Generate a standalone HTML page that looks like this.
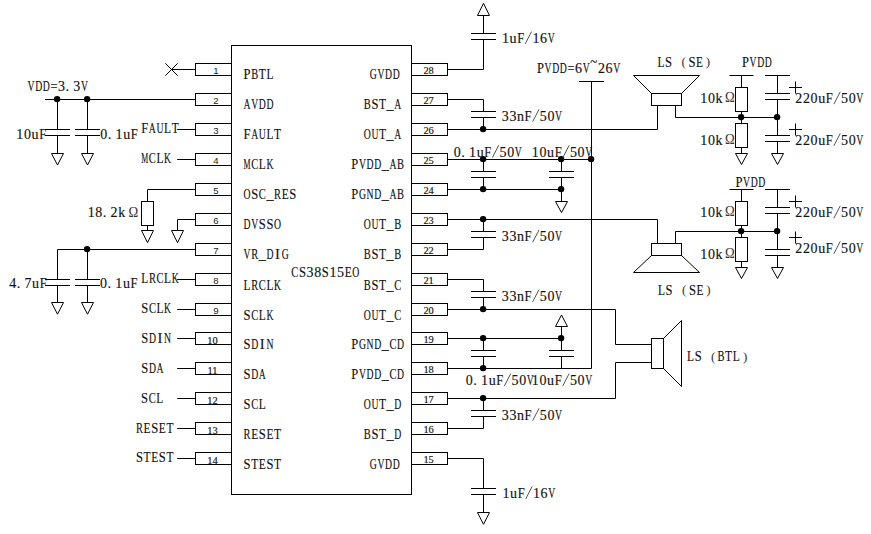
<!DOCTYPE html>
<html><head><meta charset="utf-8"><style>
html,body{margin:0;padding:0;background:#fff;}
svg{display:block;}
path,rect{fill:none;stroke:#000;stroke-width:1;}
circle.d{fill:#000;stroke:none;}
text{font-family:"Liberation Serif",serif;fill:#111;stroke:#111;stroke-width:0.15;}
text.ns{font-family:"Liberation Sans",sans-serif;fill:#222;stroke:none;}
text.nd{fill:#111;stroke:#111;stroke-width:0.15;}
text.o{fill:#333;stroke:none;}
path.sl{stroke:#333;stroke-width:0.85;}
</style></head><body>
<svg width="871" height="534" viewBox="0 0 871 534">
<rect x="231.5" y="45.5" width="180" height="449"/>
<rect x="195.5" y="63.5" width="36" height="12"/>
<text x="216" y="73.8" text-anchor="middle" class="ns" font-size="9.6">1</text>
<text x="247.06" y="78.9" text-anchor="middle" textLength="7" lengthAdjust="spacingAndGlyphs" class="t" font-size="14.6">P</text>
<text x="254.68" y="78.9" text-anchor="middle" textLength="7" lengthAdjust="spacingAndGlyphs" class="t" font-size="14.6">B</text>
<text x="262.30" y="78.9" text-anchor="middle" textLength="7" lengthAdjust="spacingAndGlyphs" class="t" font-size="14.6">T</text>
<text x="269.92" y="78.9" text-anchor="middle" textLength="7" lengthAdjust="spacingAndGlyphs" class="t" font-size="14.6">L</text>
<rect x="195.5" y="93.5" width="36" height="12"/>
<text x="216" y="103.8" text-anchor="middle" class="ns" font-size="9.6">2</text>
<text x="247.06" y="108.995" text-anchor="middle" textLength="7" lengthAdjust="spacingAndGlyphs" class="t" font-size="14.6">A</text>
<text x="254.68" y="108.995" text-anchor="middle" textLength="7" lengthAdjust="spacingAndGlyphs" class="t" font-size="14.6">V</text>
<text x="262.30" y="108.995" text-anchor="middle" textLength="7" lengthAdjust="spacingAndGlyphs" class="t" font-size="14.6">D</text>
<text x="269.92" y="108.995" text-anchor="middle" textLength="7" lengthAdjust="spacingAndGlyphs" class="t" font-size="14.6">D</text>
<rect x="195.5" y="123.5" width="36" height="12"/>
<text x="216" y="133.8" text-anchor="middle" class="ns" font-size="9.6">3</text>
<text x="247.06" y="139.09" text-anchor="middle" textLength="7" lengthAdjust="spacingAndGlyphs" class="t" font-size="14.6">F</text>
<text x="254.68" y="139.09" text-anchor="middle" textLength="7" lengthAdjust="spacingAndGlyphs" class="t" font-size="14.6">A</text>
<text x="262.30" y="139.09" text-anchor="middle" textLength="7" lengthAdjust="spacingAndGlyphs" class="t" font-size="14.6">U</text>
<text x="269.92" y="139.09" text-anchor="middle" textLength="7" lengthAdjust="spacingAndGlyphs" class="t" font-size="14.6">L</text>
<text x="277.54" y="139.09" text-anchor="middle" textLength="7" lengthAdjust="spacingAndGlyphs" class="t" font-size="14.6">T</text>
<rect x="195.5" y="153.5" width="36" height="12"/>
<text x="216" y="163.8" text-anchor="middle" class="ns" font-size="9.6">4</text>
<text x="247.06" y="169.185" text-anchor="middle" textLength="7" lengthAdjust="spacingAndGlyphs" class="t" font-size="14.6">M</text>
<text x="254.68" y="169.185" text-anchor="middle" textLength="7" lengthAdjust="spacingAndGlyphs" class="t" font-size="14.6">C</text>
<text x="262.30" y="169.185" text-anchor="middle" textLength="7" lengthAdjust="spacingAndGlyphs" class="t" font-size="14.6">L</text>
<text x="269.92" y="169.185" text-anchor="middle" textLength="7" lengthAdjust="spacingAndGlyphs" class="t" font-size="14.6">K</text>
<rect x="195.5" y="183.5" width="36" height="12"/>
<text x="216" y="193.8" text-anchor="middle" class="ns" font-size="9.6">5</text>
<text x="247.06" y="199.28" text-anchor="middle" textLength="7" lengthAdjust="spacingAndGlyphs" class="t" font-size="14.6">O</text>
<text x="254.68" y="199.28" text-anchor="middle" textLength="7" lengthAdjust="spacingAndGlyphs" class="t" font-size="14.6">S</text>
<text x="262.30" y="199.28" text-anchor="middle" textLength="7" lengthAdjust="spacingAndGlyphs" class="t" font-size="14.6">C</text>
<text x="269.92" y="199.28" text-anchor="middle" textLength="7" lengthAdjust="spacingAndGlyphs" class="t" font-size="14.6">_</text>
<text x="277.54" y="199.28" text-anchor="middle" textLength="7" lengthAdjust="spacingAndGlyphs" class="t" font-size="14.6">R</text>
<text x="285.16" y="199.28" text-anchor="middle" textLength="7" lengthAdjust="spacingAndGlyphs" class="t" font-size="14.6">E</text>
<text x="292.78" y="199.28" text-anchor="middle" textLength="7" lengthAdjust="spacingAndGlyphs" class="t" font-size="14.6">S</text>
<rect x="195.5" y="213.5" width="36" height="12"/>
<text x="216" y="223.8" text-anchor="middle" class="ns" font-size="9.6">6</text>
<text x="247.06" y="229.375" text-anchor="middle" textLength="7" lengthAdjust="spacingAndGlyphs" class="t" font-size="14.6">D</text>
<text x="254.68" y="229.375" text-anchor="middle" textLength="7" lengthAdjust="spacingAndGlyphs" class="t" font-size="14.6">V</text>
<text x="262.30" y="229.375" text-anchor="middle" textLength="7" lengthAdjust="spacingAndGlyphs" class="t" font-size="14.6">S</text>
<text x="269.92" y="229.375" text-anchor="middle" textLength="7" lengthAdjust="spacingAndGlyphs" class="t" font-size="14.6">S</text>
<text x="277.54" y="229.375" text-anchor="middle" textLength="7" lengthAdjust="spacingAndGlyphs" class="t" font-size="14.6">O</text>
<rect x="195.5" y="243.5" width="36" height="12"/>
<text x="216" y="253.8" text-anchor="middle" class="ns" font-size="9.6">7</text>
<text x="247.06" y="259.47" text-anchor="middle" textLength="7" lengthAdjust="spacingAndGlyphs" class="t" font-size="14.6">V</text>
<text x="254.68" y="259.47" text-anchor="middle" textLength="7" lengthAdjust="spacingAndGlyphs" class="t" font-size="14.6">R</text>
<text x="262.30" y="259.47" text-anchor="middle" textLength="7" lengthAdjust="spacingAndGlyphs" class="t" font-size="14.6">_</text>
<text x="269.92" y="259.47" text-anchor="middle" textLength="7" lengthAdjust="spacingAndGlyphs" class="t" font-size="14.6">D</text>
<text x="277.54" y="259.47" text-anchor="middle" class="t" font-size="14.6">I</text>
<text x="285.16" y="259.47" text-anchor="middle" textLength="7" lengthAdjust="spacingAndGlyphs" class="t" font-size="14.6">G</text>
<rect x="195.5" y="273.5" width="36" height="12"/>
<text x="216" y="283.8" text-anchor="middle" class="ns" font-size="9.6">8</text>
<text x="247.06" y="289.565" text-anchor="middle" textLength="7" lengthAdjust="spacingAndGlyphs" class="t" font-size="14.6">L</text>
<text x="254.68" y="289.565" text-anchor="middle" textLength="7" lengthAdjust="spacingAndGlyphs" class="t" font-size="14.6">R</text>
<text x="262.30" y="289.565" text-anchor="middle" textLength="7" lengthAdjust="spacingAndGlyphs" class="t" font-size="14.6">C</text>
<text x="269.92" y="289.565" text-anchor="middle" textLength="7" lengthAdjust="spacingAndGlyphs" class="t" font-size="14.6">L</text>
<text x="277.54" y="289.565" text-anchor="middle" textLength="7" lengthAdjust="spacingAndGlyphs" class="t" font-size="14.6">K</text>
<rect x="195.5" y="303.5" width="36" height="12"/>
<text x="216" y="313.8" text-anchor="middle" class="ns" font-size="9.6">9</text>
<text x="247.06" y="319.66" text-anchor="middle" textLength="7" lengthAdjust="spacingAndGlyphs" class="t" font-size="14.6">S</text>
<text x="254.68" y="319.66" text-anchor="middle" textLength="7" lengthAdjust="spacingAndGlyphs" class="t" font-size="14.6">C</text>
<text x="262.30" y="319.66" text-anchor="middle" textLength="7" lengthAdjust="spacingAndGlyphs" class="t" font-size="14.6">L</text>
<text x="269.92" y="319.66" text-anchor="middle" textLength="7" lengthAdjust="spacingAndGlyphs" class="t" font-size="14.6">K</text>
<rect x="195.5" y="332.5" width="36" height="12"/>
<text x="212.5" y="344" text-anchor="middle" class="nd" font-size="10.4">10</text>
<text x="247.06" y="348.755" text-anchor="middle" textLength="7" lengthAdjust="spacingAndGlyphs" class="t" font-size="14.6">S</text>
<text x="254.68" y="348.755" text-anchor="middle" textLength="7" lengthAdjust="spacingAndGlyphs" class="t" font-size="14.6">D</text>
<text x="262.30" y="348.755" text-anchor="middle" class="t" font-size="14.6">I</text>
<text x="269.92" y="348.755" text-anchor="middle" textLength="7" lengthAdjust="spacingAndGlyphs" class="t" font-size="14.6">N</text>
<rect x="195.5" y="362.5" width="36" height="12"/>
<text x="212.5" y="374" text-anchor="middle" class="nd" font-size="10.4">11</text>
<text x="247.06" y="378.85" text-anchor="middle" textLength="7" lengthAdjust="spacingAndGlyphs" class="t" font-size="14.6">S</text>
<text x="254.68" y="378.85" text-anchor="middle" textLength="7" lengthAdjust="spacingAndGlyphs" class="t" font-size="14.6">D</text>
<text x="262.30" y="378.85" text-anchor="middle" textLength="7" lengthAdjust="spacingAndGlyphs" class="t" font-size="14.6">A</text>
<rect x="195.5" y="392.5" width="36" height="12"/>
<text x="212.5" y="404" text-anchor="middle" class="nd" font-size="10.4">12</text>
<text x="247.06" y="408.945" text-anchor="middle" textLength="7" lengthAdjust="spacingAndGlyphs" class="t" font-size="14.6">S</text>
<text x="254.68" y="408.945" text-anchor="middle" textLength="7" lengthAdjust="spacingAndGlyphs" class="t" font-size="14.6">C</text>
<text x="262.30" y="408.945" text-anchor="middle" textLength="7" lengthAdjust="spacingAndGlyphs" class="t" font-size="14.6">L</text>
<rect x="195.5" y="422.5" width="36" height="12"/>
<text x="212.5" y="434" text-anchor="middle" class="nd" font-size="10.4">13</text>
<text x="247.06" y="439.04" text-anchor="middle" textLength="7" lengthAdjust="spacingAndGlyphs" class="t" font-size="14.6">R</text>
<text x="254.68" y="439.04" text-anchor="middle" textLength="7" lengthAdjust="spacingAndGlyphs" class="t" font-size="14.6">E</text>
<text x="262.30" y="439.04" text-anchor="middle" textLength="7" lengthAdjust="spacingAndGlyphs" class="t" font-size="14.6">S</text>
<text x="269.92" y="439.04" text-anchor="middle" textLength="7" lengthAdjust="spacingAndGlyphs" class="t" font-size="14.6">E</text>
<text x="277.54" y="439.04" text-anchor="middle" textLength="7" lengthAdjust="spacingAndGlyphs" class="t" font-size="14.6">T</text>
<rect x="195.5" y="452.5" width="36" height="12"/>
<text x="212.5" y="464" text-anchor="middle" class="nd" font-size="10.4">14</text>
<text x="247.06" y="469.135" text-anchor="middle" textLength="7" lengthAdjust="spacingAndGlyphs" class="t" font-size="14.6">S</text>
<text x="254.68" y="469.135" text-anchor="middle" textLength="7" lengthAdjust="spacingAndGlyphs" class="t" font-size="14.6">T</text>
<text x="262.30" y="469.135" text-anchor="middle" textLength="7" lengthAdjust="spacingAndGlyphs" class="t" font-size="14.6">E</text>
<text x="269.92" y="469.135" text-anchor="middle" textLength="7" lengthAdjust="spacingAndGlyphs" class="t" font-size="14.6">S</text>
<text x="277.54" y="469.135" text-anchor="middle" textLength="7" lengthAdjust="spacingAndGlyphs" class="t" font-size="14.6">T</text>
<rect x="411.5" y="63.5" width="36" height="12"/>
<text x="428.6" y="74.4" text-anchor="middle" class="nd" font-size="10.4">28</text>
<text x="373.36" y="78.9" text-anchor="middle" textLength="7" lengthAdjust="spacingAndGlyphs" class="t" font-size="14.6">G</text>
<text x="380.98" y="78.9" text-anchor="middle" textLength="7" lengthAdjust="spacingAndGlyphs" class="t" font-size="14.6">V</text>
<text x="388.60" y="78.9" text-anchor="middle" textLength="7" lengthAdjust="spacingAndGlyphs" class="t" font-size="14.6">D</text>
<text x="396.22" y="78.9" text-anchor="middle" textLength="7" lengthAdjust="spacingAndGlyphs" class="t" font-size="14.6">D</text>
<rect x="411.5" y="93.5" width="36" height="12"/>
<text x="428.6" y="104.4" text-anchor="middle" class="nd" font-size="10.4">27</text>
<text x="367.26" y="108.995" text-anchor="middle" textLength="7" lengthAdjust="spacingAndGlyphs" class="t" font-size="14.6">B</text>
<text x="374.88" y="108.995" text-anchor="middle" textLength="7" lengthAdjust="spacingAndGlyphs" class="t" font-size="14.6">S</text>
<text x="382.50" y="108.995" text-anchor="middle" textLength="7" lengthAdjust="spacingAndGlyphs" class="t" font-size="14.6">T</text>
<text x="390.12" y="108.995" text-anchor="middle" textLength="7" lengthAdjust="spacingAndGlyphs" class="t" font-size="14.6">_</text>
<text x="397.74" y="108.995" text-anchor="middle" textLength="7" lengthAdjust="spacingAndGlyphs" class="t" font-size="14.6">A</text>
<rect x="411.5" y="123.5" width="36" height="12"/>
<text x="428.6" y="134.4" text-anchor="middle" class="nd" font-size="10.4">26</text>
<text x="367.26" y="139.09" text-anchor="middle" textLength="7" lengthAdjust="spacingAndGlyphs" class="t" font-size="14.6">O</text>
<text x="374.88" y="139.09" text-anchor="middle" textLength="7" lengthAdjust="spacingAndGlyphs" class="t" font-size="14.6">U</text>
<text x="382.50" y="139.09" text-anchor="middle" textLength="7" lengthAdjust="spacingAndGlyphs" class="t" font-size="14.6">T</text>
<text x="390.12" y="139.09" text-anchor="middle" textLength="7" lengthAdjust="spacingAndGlyphs" class="t" font-size="14.6">_</text>
<text x="397.74" y="139.09" text-anchor="middle" textLength="7" lengthAdjust="spacingAndGlyphs" class="t" font-size="14.6">A</text>
<rect x="411.5" y="153.5" width="36" height="12"/>
<text x="428.6" y="164.4" text-anchor="middle" class="nd" font-size="10.4">25</text>
<text x="354.86" y="169.185" text-anchor="middle" textLength="7" lengthAdjust="spacingAndGlyphs" class="t" font-size="14.6">P</text>
<text x="362.48" y="169.185" text-anchor="middle" textLength="7" lengthAdjust="spacingAndGlyphs" class="t" font-size="14.6">V</text>
<text x="370.10" y="169.185" text-anchor="middle" textLength="7" lengthAdjust="spacingAndGlyphs" class="t" font-size="14.6">D</text>
<text x="377.72" y="169.185" text-anchor="middle" textLength="7" lengthAdjust="spacingAndGlyphs" class="t" font-size="14.6">D</text>
<text x="385.34" y="169.185" text-anchor="middle" textLength="7" lengthAdjust="spacingAndGlyphs" class="t" font-size="14.6">_</text>
<text x="392.96" y="169.185" text-anchor="middle" textLength="7" lengthAdjust="spacingAndGlyphs" class="t" font-size="14.6">A</text>
<text x="400.58" y="169.185" text-anchor="middle" textLength="7" lengthAdjust="spacingAndGlyphs" class="t" font-size="14.6">B</text>
<rect x="411.5" y="183.5" width="36" height="12"/>
<text x="428.6" y="194.4" text-anchor="middle" class="nd" font-size="10.4">24</text>
<text x="354.86" y="199.28" text-anchor="middle" textLength="7" lengthAdjust="spacingAndGlyphs" class="t" font-size="14.6">P</text>
<text x="362.48" y="199.28" text-anchor="middle" textLength="7" lengthAdjust="spacingAndGlyphs" class="t" font-size="14.6">G</text>
<text x="370.10" y="199.28" text-anchor="middle" textLength="7" lengthAdjust="spacingAndGlyphs" class="t" font-size="14.6">N</text>
<text x="377.72" y="199.28" text-anchor="middle" textLength="7" lengthAdjust="spacingAndGlyphs" class="t" font-size="14.6">D</text>
<text x="385.34" y="199.28" text-anchor="middle" textLength="7" lengthAdjust="spacingAndGlyphs" class="t" font-size="14.6">_</text>
<text x="392.96" y="199.28" text-anchor="middle" textLength="7" lengthAdjust="spacingAndGlyphs" class="t" font-size="14.6">A</text>
<text x="400.58" y="199.28" text-anchor="middle" textLength="7" lengthAdjust="spacingAndGlyphs" class="t" font-size="14.6">B</text>
<rect x="411.5" y="213.5" width="36" height="12"/>
<text x="428.6" y="224.4" text-anchor="middle" class="nd" font-size="10.4">23</text>
<text x="367.26" y="229.375" text-anchor="middle" textLength="7" lengthAdjust="spacingAndGlyphs" class="t" font-size="14.6">O</text>
<text x="374.88" y="229.375" text-anchor="middle" textLength="7" lengthAdjust="spacingAndGlyphs" class="t" font-size="14.6">U</text>
<text x="382.50" y="229.375" text-anchor="middle" textLength="7" lengthAdjust="spacingAndGlyphs" class="t" font-size="14.6">T</text>
<text x="390.12" y="229.375" text-anchor="middle" textLength="7" lengthAdjust="spacingAndGlyphs" class="t" font-size="14.6">_</text>
<text x="397.74" y="229.375" text-anchor="middle" textLength="7" lengthAdjust="spacingAndGlyphs" class="t" font-size="14.6">B</text>
<rect x="411.5" y="243.5" width="36" height="12"/>
<text x="428.6" y="254.4" text-anchor="middle" class="nd" font-size="10.4">22</text>
<text x="367.26" y="259.47" text-anchor="middle" textLength="7" lengthAdjust="spacingAndGlyphs" class="t" font-size="14.6">B</text>
<text x="374.88" y="259.47" text-anchor="middle" textLength="7" lengthAdjust="spacingAndGlyphs" class="t" font-size="14.6">S</text>
<text x="382.50" y="259.47" text-anchor="middle" textLength="7" lengthAdjust="spacingAndGlyphs" class="t" font-size="14.6">T</text>
<text x="390.12" y="259.47" text-anchor="middle" textLength="7" lengthAdjust="spacingAndGlyphs" class="t" font-size="14.6">_</text>
<text x="397.74" y="259.47" text-anchor="middle" textLength="7" lengthAdjust="spacingAndGlyphs" class="t" font-size="14.6">B</text>
<rect x="411.5" y="273.5" width="36" height="12"/>
<text x="428.6" y="284.4" text-anchor="middle" class="nd" font-size="10.4">21</text>
<text x="367.26" y="289.565" text-anchor="middle" textLength="7" lengthAdjust="spacingAndGlyphs" class="t" font-size="14.6">B</text>
<text x="374.88" y="289.565" text-anchor="middle" textLength="7" lengthAdjust="spacingAndGlyphs" class="t" font-size="14.6">S</text>
<text x="382.50" y="289.565" text-anchor="middle" textLength="7" lengthAdjust="spacingAndGlyphs" class="t" font-size="14.6">T</text>
<text x="390.12" y="289.565" text-anchor="middle" textLength="7" lengthAdjust="spacingAndGlyphs" class="t" font-size="14.6">_</text>
<text x="397.74" y="289.565" text-anchor="middle" textLength="7" lengthAdjust="spacingAndGlyphs" class="t" font-size="14.6">C</text>
<rect x="411.5" y="303.5" width="36" height="12"/>
<text x="428.6" y="314.4" text-anchor="middle" class="nd" font-size="10.4">20</text>
<text x="367.26" y="319.66" text-anchor="middle" textLength="7" lengthAdjust="spacingAndGlyphs" class="t" font-size="14.6">O</text>
<text x="374.88" y="319.66" text-anchor="middle" textLength="7" lengthAdjust="spacingAndGlyphs" class="t" font-size="14.6">U</text>
<text x="382.50" y="319.66" text-anchor="middle" textLength="7" lengthAdjust="spacingAndGlyphs" class="t" font-size="14.6">T</text>
<text x="390.12" y="319.66" text-anchor="middle" textLength="7" lengthAdjust="spacingAndGlyphs" class="t" font-size="14.6">_</text>
<text x="397.74" y="319.66" text-anchor="middle" textLength="7" lengthAdjust="spacingAndGlyphs" class="t" font-size="14.6">C</text>
<rect x="411.5" y="332.5" width="36" height="12"/>
<text x="428.6" y="343.4" text-anchor="middle" class="nd" font-size="10.4">19</text>
<text x="354.86" y="348.755" text-anchor="middle" textLength="7" lengthAdjust="spacingAndGlyphs" class="t" font-size="14.6">P</text>
<text x="362.48" y="348.755" text-anchor="middle" textLength="7" lengthAdjust="spacingAndGlyphs" class="t" font-size="14.6">G</text>
<text x="370.10" y="348.755" text-anchor="middle" textLength="7" lengthAdjust="spacingAndGlyphs" class="t" font-size="14.6">N</text>
<text x="377.72" y="348.755" text-anchor="middle" textLength="7" lengthAdjust="spacingAndGlyphs" class="t" font-size="14.6">D</text>
<text x="385.34" y="348.755" text-anchor="middle" textLength="7" lengthAdjust="spacingAndGlyphs" class="t" font-size="14.6">_</text>
<text x="392.96" y="348.755" text-anchor="middle" textLength="7" lengthAdjust="spacingAndGlyphs" class="t" font-size="14.6">C</text>
<text x="400.58" y="348.755" text-anchor="middle" textLength="7" lengthAdjust="spacingAndGlyphs" class="t" font-size="14.6">D</text>
<rect x="411.5" y="362.5" width="36" height="12"/>
<text x="428.6" y="373.4" text-anchor="middle" class="nd" font-size="10.4">18</text>
<text x="354.86" y="378.85" text-anchor="middle" textLength="7" lengthAdjust="spacingAndGlyphs" class="t" font-size="14.6">P</text>
<text x="362.48" y="378.85" text-anchor="middle" textLength="7" lengthAdjust="spacingAndGlyphs" class="t" font-size="14.6">V</text>
<text x="370.10" y="378.85" text-anchor="middle" textLength="7" lengthAdjust="spacingAndGlyphs" class="t" font-size="14.6">D</text>
<text x="377.72" y="378.85" text-anchor="middle" textLength="7" lengthAdjust="spacingAndGlyphs" class="t" font-size="14.6">D</text>
<text x="385.34" y="378.85" text-anchor="middle" textLength="7" lengthAdjust="spacingAndGlyphs" class="t" font-size="14.6">_</text>
<text x="392.96" y="378.85" text-anchor="middle" textLength="7" lengthAdjust="spacingAndGlyphs" class="t" font-size="14.6">C</text>
<text x="400.58" y="378.85" text-anchor="middle" textLength="7" lengthAdjust="spacingAndGlyphs" class="t" font-size="14.6">D</text>
<rect x="411.5" y="392.5" width="36" height="12"/>
<text x="428.6" y="403.4" text-anchor="middle" class="nd" font-size="10.4">17</text>
<text x="367.26" y="408.945" text-anchor="middle" textLength="7" lengthAdjust="spacingAndGlyphs" class="t" font-size="14.6">O</text>
<text x="374.88" y="408.945" text-anchor="middle" textLength="7" lengthAdjust="spacingAndGlyphs" class="t" font-size="14.6">U</text>
<text x="382.50" y="408.945" text-anchor="middle" textLength="7" lengthAdjust="spacingAndGlyphs" class="t" font-size="14.6">T</text>
<text x="390.12" y="408.945" text-anchor="middle" textLength="7" lengthAdjust="spacingAndGlyphs" class="t" font-size="14.6">_</text>
<text x="397.74" y="408.945" text-anchor="middle" textLength="7" lengthAdjust="spacingAndGlyphs" class="t" font-size="14.6">D</text>
<rect x="411.5" y="422.5" width="36" height="12"/>
<text x="428.6" y="433.4" text-anchor="middle" class="nd" font-size="10.4">16</text>
<text x="367.26" y="439.04" text-anchor="middle" textLength="7" lengthAdjust="spacingAndGlyphs" class="t" font-size="14.6">B</text>
<text x="374.88" y="439.04" text-anchor="middle" textLength="7" lengthAdjust="spacingAndGlyphs" class="t" font-size="14.6">S</text>
<text x="382.50" y="439.04" text-anchor="middle" textLength="7" lengthAdjust="spacingAndGlyphs" class="t" font-size="14.6">T</text>
<text x="390.12" y="439.04" text-anchor="middle" textLength="7" lengthAdjust="spacingAndGlyphs" class="t" font-size="14.6">_</text>
<text x="397.74" y="439.04" text-anchor="middle" textLength="7" lengthAdjust="spacingAndGlyphs" class="t" font-size="14.6">D</text>
<rect x="411.5" y="452.5" width="36" height="12"/>
<text x="428.6" y="463.4" text-anchor="middle" class="nd" font-size="10.4">15</text>
<text x="373.36" y="469.135" text-anchor="middle" textLength="7" lengthAdjust="spacingAndGlyphs" class="t" font-size="14.6">G</text>
<text x="380.98" y="469.135" text-anchor="middle" textLength="7" lengthAdjust="spacingAndGlyphs" class="t" font-size="14.6">V</text>
<text x="388.60" y="469.135" text-anchor="middle" textLength="7" lengthAdjust="spacingAndGlyphs" class="t" font-size="14.6">D</text>
<text x="396.22" y="469.135" text-anchor="middle" textLength="7" lengthAdjust="spacingAndGlyphs" class="t" font-size="14.6">D</text>
<text x="294.86" y="277" text-anchor="middle" textLength="7" lengthAdjust="spacingAndGlyphs" class="t" font-size="14.6">C</text>
<text x="302.48" y="277" text-anchor="middle" textLength="7" lengthAdjust="spacingAndGlyphs" class="t" font-size="14.6">S</text>
<text x="310.10" y="277" text-anchor="middle" textLength="7" lengthAdjust="spacingAndGlyphs" class="t" font-size="14.6">3</text>
<text x="317.72" y="277" text-anchor="middle" textLength="7" lengthAdjust="spacingAndGlyphs" class="t" font-size="14.6">8</text>
<text x="325.34" y="277" text-anchor="middle" textLength="7" lengthAdjust="spacingAndGlyphs" class="t" font-size="14.6">S</text>
<text x="332.96" y="277" text-anchor="middle" textLength="7" lengthAdjust="spacingAndGlyphs" class="t" font-size="14.6">1</text>
<text x="340.58" y="277" text-anchor="middle" textLength="7" lengthAdjust="spacingAndGlyphs" class="t" font-size="14.6">5</text>
<text x="348.20" y="277" text-anchor="middle" textLength="7" lengthAdjust="spacingAndGlyphs" class="t" font-size="14.6">E</text>
<text x="355.82" y="277" text-anchor="middle" textLength="7" lengthAdjust="spacingAndGlyphs" class="t" font-size="14.6">O</text>
<path d="M165.3 63.3 L177.7 75.7"/>
<path d="M165.3 75.7 L177.7 63.3"/>
<path d="M171.5 69.5 L195.5 69.5"/>
<path d="M45 99.5 L195.5 99.5"/>
<circle cx="57.1" cy="99.1" r="3.2" class="d"/>
<circle cx="87.1" cy="99.1" r="3.2" class="d"/>
<path d="M57.5 99.5 L57.5 129.5"/>
<path d="M57.5 135.5 L57.5 153.5"/>
<path d="M45 129.5 L70 129.5"/>
<path d="M45 135.5 L70 135.5"/>
<path d="M51.5 153.5 L63.5 153.5 L57.5 165 Z"/>
<path d="M87.5 99.5 L87.5 129.5"/>
<path d="M87.5 135.5 L87.5 153.5"/>
<path d="M75 129.5 L100 129.5"/>
<path d="M75 135.5 L100 135.5"/>
<path d="M81.5 153.5 L93.5 153.5 L87.5 165 Z"/>
<text x="31.06" y="91" text-anchor="middle" textLength="7" lengthAdjust="spacingAndGlyphs" class="t" font-size="14.6">V</text>
<text x="38.68" y="91" text-anchor="middle" textLength="7" lengthAdjust="spacingAndGlyphs" class="t" font-size="14.6">D</text>
<text x="46.30" y="91" text-anchor="middle" textLength="7" lengthAdjust="spacingAndGlyphs" class="t" font-size="14.6">D</text>
<text x="53.92" y="91" text-anchor="middle" textLength="7" lengthAdjust="spacingAndGlyphs" class="t" font-size="14.6">=</text>
<text x="61.54" y="91" text-anchor="middle" textLength="7" lengthAdjust="spacingAndGlyphs" class="t" font-size="14.6">3</text>
<text x="67.36" y="91" text-anchor="middle" class="t" font-size="14.6">.</text>
<text x="76.78" y="91" text-anchor="middle" textLength="7" lengthAdjust="spacingAndGlyphs" class="t" font-size="14.6">3</text>
<text x="84.40" y="91" text-anchor="middle" textLength="7" lengthAdjust="spacingAndGlyphs" class="t" font-size="14.6">V</text>
<text x="19.86" y="139" text-anchor="middle" textLength="7" lengthAdjust="spacingAndGlyphs" class="t" font-size="14.6">1</text>
<text x="27.48" y="139" text-anchor="middle" textLength="7" lengthAdjust="spacingAndGlyphs" class="t" font-size="14.6">0</text>
<text x="35.10" y="139" text-anchor="middle" textLength="7" lengthAdjust="spacingAndGlyphs" class="t" font-size="14.6">u</text>
<text x="42.72" y="139" text-anchor="middle" textLength="7" lengthAdjust="spacingAndGlyphs" class="t" font-size="14.6">F</text>
<text x="103.86" y="139.2" text-anchor="middle" textLength="7" lengthAdjust="spacingAndGlyphs" class="t" font-size="14.6">0</text>
<text x="109.68" y="139.2" text-anchor="middle" class="t" font-size="14.6">.</text>
<text x="119.10" y="139.2" text-anchor="middle" textLength="7" lengthAdjust="spacingAndGlyphs" class="t" font-size="14.6">1</text>
<text x="126.72" y="139.2" text-anchor="middle" textLength="7" lengthAdjust="spacingAndGlyphs" class="t" font-size="14.6">u</text>
<text x="134.34" y="139.2" text-anchor="middle" textLength="7" lengthAdjust="spacingAndGlyphs" class="t" font-size="14.6">F</text>
<path d="M177.2 129.5 L195.5 129.5"/>
<path d="M177.2 159.5 L195.5 159.5"/>
<path d="M177.2 279.5 L195.5 279.5"/>
<path d="M177.2 309.5 L195.5 309.5"/>
<path d="M177.2 338.5 L195.5 338.5"/>
<path d="M177.2 368.5 L195.5 368.5"/>
<path d="M177.2 398.5 L195.5 398.5"/>
<path d="M177.2 428.5 L195.5 428.5"/>
<path d="M177.2 458.5 L195.5 458.5"/>
<text x="144.66" y="132.7" text-anchor="middle" textLength="7" lengthAdjust="spacingAndGlyphs" class="t" font-size="14.6">F</text>
<text x="152.28" y="132.7" text-anchor="middle" textLength="7" lengthAdjust="spacingAndGlyphs" class="t" font-size="14.6">A</text>
<text x="159.90" y="132.7" text-anchor="middle" textLength="7" lengthAdjust="spacingAndGlyphs" class="t" font-size="14.6">U</text>
<text x="167.52" y="132.7" text-anchor="middle" textLength="7" lengthAdjust="spacingAndGlyphs" class="t" font-size="14.6">L</text>
<text x="175.14" y="132.7" text-anchor="middle" textLength="7" lengthAdjust="spacingAndGlyphs" class="t" font-size="14.6">T</text>
<text x="144.66" y="162.6" text-anchor="middle" textLength="7" lengthAdjust="spacingAndGlyphs" class="t" font-size="14.6">M</text>
<text x="152.28" y="162.6" text-anchor="middle" textLength="7" lengthAdjust="spacingAndGlyphs" class="t" font-size="14.6">C</text>
<text x="159.90" y="162.6" text-anchor="middle" textLength="7" lengthAdjust="spacingAndGlyphs" class="t" font-size="14.6">L</text>
<text x="167.52" y="162.6" text-anchor="middle" textLength="7" lengthAdjust="spacingAndGlyphs" class="t" font-size="14.6">K</text>
<text x="144.76" y="282.8" text-anchor="middle" textLength="7" lengthAdjust="spacingAndGlyphs" class="t" font-size="14.6">L</text>
<text x="152.38" y="282.8" text-anchor="middle" textLength="7" lengthAdjust="spacingAndGlyphs" class="t" font-size="14.6">R</text>
<text x="160.00" y="282.8" text-anchor="middle" textLength="7" lengthAdjust="spacingAndGlyphs" class="t" font-size="14.6">C</text>
<text x="167.62" y="282.8" text-anchor="middle" textLength="7" lengthAdjust="spacingAndGlyphs" class="t" font-size="14.6">L</text>
<text x="175.24" y="282.8" text-anchor="middle" textLength="7" lengthAdjust="spacingAndGlyphs" class="t" font-size="14.6">K</text>
<text x="144.76" y="312.6" text-anchor="middle" textLength="7" lengthAdjust="spacingAndGlyphs" class="t" font-size="14.6">S</text>
<text x="152.38" y="312.6" text-anchor="middle" textLength="7" lengthAdjust="spacingAndGlyphs" class="t" font-size="14.6">C</text>
<text x="160.00" y="312.6" text-anchor="middle" textLength="7" lengthAdjust="spacingAndGlyphs" class="t" font-size="14.6">L</text>
<text x="167.62" y="312.6" text-anchor="middle" textLength="7" lengthAdjust="spacingAndGlyphs" class="t" font-size="14.6">K</text>
<text x="144.76" y="342.8" text-anchor="middle" textLength="7" lengthAdjust="spacingAndGlyphs" class="t" font-size="14.6">S</text>
<text x="152.38" y="342.8" text-anchor="middle" textLength="7" lengthAdjust="spacingAndGlyphs" class="t" font-size="14.6">D</text>
<text x="160.00" y="342.8" text-anchor="middle" class="t" font-size="14.6">I</text>
<text x="167.62" y="342.8" text-anchor="middle" textLength="7" lengthAdjust="spacingAndGlyphs" class="t" font-size="14.6">N</text>
<text x="144.76" y="372.7" text-anchor="middle" textLength="7" lengthAdjust="spacingAndGlyphs" class="t" font-size="14.6">S</text>
<text x="152.38" y="372.7" text-anchor="middle" textLength="7" lengthAdjust="spacingAndGlyphs" class="t" font-size="14.6">D</text>
<text x="160.00" y="372.7" text-anchor="middle" textLength="7" lengthAdjust="spacingAndGlyphs" class="t" font-size="14.6">A</text>
<text x="144.56" y="402.6" text-anchor="middle" textLength="7" lengthAdjust="spacingAndGlyphs" class="t" font-size="14.6">S</text>
<text x="152.18" y="402.6" text-anchor="middle" textLength="7" lengthAdjust="spacingAndGlyphs" class="t" font-size="14.6">C</text>
<text x="159.80" y="402.6" text-anchor="middle" textLength="7" lengthAdjust="spacingAndGlyphs" class="t" font-size="14.6">L</text>
<text x="139.46" y="433.1" text-anchor="middle" textLength="7" lengthAdjust="spacingAndGlyphs" class="t" font-size="14.6">R</text>
<text x="147.08" y="433.1" text-anchor="middle" textLength="7" lengthAdjust="spacingAndGlyphs" class="t" font-size="14.6">E</text>
<text x="154.70" y="433.1" text-anchor="middle" textLength="7" lengthAdjust="spacingAndGlyphs" class="t" font-size="14.6">S</text>
<text x="162.32" y="433.1" text-anchor="middle" textLength="7" lengthAdjust="spacingAndGlyphs" class="t" font-size="14.6">E</text>
<text x="169.94" y="433.1" text-anchor="middle" textLength="7" lengthAdjust="spacingAndGlyphs" class="t" font-size="14.6">T</text>
<text x="139.46" y="462.1" text-anchor="middle" textLength="7" lengthAdjust="spacingAndGlyphs" class="t" font-size="14.6">S</text>
<text x="147.08" y="462.1" text-anchor="middle" textLength="7" lengthAdjust="spacingAndGlyphs" class="t" font-size="14.6">T</text>
<text x="154.70" y="462.1" text-anchor="middle" textLength="7" lengthAdjust="spacingAndGlyphs" class="t" font-size="14.6">E</text>
<text x="162.32" y="462.1" text-anchor="middle" textLength="7" lengthAdjust="spacingAndGlyphs" class="t" font-size="14.6">S</text>
<text x="169.94" y="462.1" text-anchor="middle" textLength="7" lengthAdjust="spacingAndGlyphs" class="t" font-size="14.6">T</text>
<path d="M195.5 189.5 L147.5 189.5 L147.5 201.5"/>
<rect x="141.5" y="201.5" width="12" height="24"/>
<path d="M147.5 225.5 L147.5 230.5"/>
<path d="M141.5 230.5 L153.5 230.5 L147.5 242.7 Z"/>
<text x="91.16" y="217" text-anchor="middle" textLength="7" lengthAdjust="spacingAndGlyphs" class="t" font-size="14.6">1</text>
<text x="98.78" y="217" text-anchor="middle" textLength="7" lengthAdjust="spacingAndGlyphs" class="t" font-size="14.6">8</text>
<text x="104.60" y="217" text-anchor="middle" class="t" font-size="14.6">.</text>
<text x="114.02" y="217" text-anchor="middle" textLength="7" lengthAdjust="spacingAndGlyphs" class="t" font-size="14.6">2</text>
<text x="121.64" y="217" text-anchor="middle" textLength="7" lengthAdjust="spacingAndGlyphs" class="t" font-size="14.6">k</text>
<text x="128.6" y="216.5" textLength="9.7" lengthAdjust="spacingAndGlyphs" class="o" font-size="14.6">&#937;</text>
<path d="M195.5 219.5 L177.5 219.5 L177.5 230.5"/>
<path d="M171.5 230.5 L183.5 230.5 L177.5 242.7 Z"/>
<path d="M195.5 249.5 L57.5 249.5 L57.5 279.5"/>
<circle cx="87.1" cy="249.1" r="3.2" class="d"/>
<path d="M87.5 249.5 L87.5 279.5"/>
<path d="M45 279.5 L70 279.5"/>
<path d="M45 285.5 L70 285.5"/>
<path d="M57.5 285.5 L57.5 302.5"/>
<path d="M51.5 302.5 L63.5 302.5 L57.5 314.2 Z"/>
<path d="M75 279.5 L100 279.5"/>
<path d="M75 285.5 L100 285.5"/>
<path d="M87.5 285.5 L87.5 302.5"/>
<path d="M81.5 302.5 L93.5 302.5 L87.5 314.2 Z"/>
<text x="12.66" y="288" text-anchor="middle" textLength="7" lengthAdjust="spacingAndGlyphs" class="t" font-size="14.6">4</text>
<text x="18.48" y="288" text-anchor="middle" class="t" font-size="14.6">.</text>
<text x="27.90" y="288" text-anchor="middle" textLength="7" lengthAdjust="spacingAndGlyphs" class="t" font-size="14.6">7</text>
<text x="35.52" y="288" text-anchor="middle" textLength="7" lengthAdjust="spacingAndGlyphs" class="t" font-size="14.6">u</text>
<text x="43.14" y="288" text-anchor="middle" textLength="7" lengthAdjust="spacingAndGlyphs" class="t" font-size="14.6">F</text>
<text x="103.56" y="288" text-anchor="middle" textLength="7" lengthAdjust="spacingAndGlyphs" class="t" font-size="14.6">0</text>
<text x="109.38" y="288" text-anchor="middle" class="t" font-size="14.6">.</text>
<text x="118.80" y="288" text-anchor="middle" textLength="7" lengthAdjust="spacingAndGlyphs" class="t" font-size="14.6">1</text>
<text x="126.42" y="288" text-anchor="middle" textLength="7" lengthAdjust="spacingAndGlyphs" class="t" font-size="14.6">u</text>
<text x="134.04" y="288" text-anchor="middle" textLength="7" lengthAdjust="spacingAndGlyphs" class="t" font-size="14.6">F</text>
<path d="M447.5 69.5 L483.5 69.5 L483.5 39.5"/>
<path d="M471 33.5 L496 33.5"/>
<path d="M471 39.5 L496 39.5"/>
<path d="M483.5 33.5 L483.5 15.5"/>
<path d="M477.5 15.5 L489.5 15.5 L483.5 3.3 Z"/>
<text x="505.46" y="42.9" text-anchor="middle" textLength="7" lengthAdjust="spacingAndGlyphs" class="t" font-size="14.6">1</text>
<text x="513.08" y="42.9" text-anchor="middle" textLength="7" lengthAdjust="spacingAndGlyphs" class="t" font-size="14.6">u</text>
<text x="520.70" y="42.9" text-anchor="middle" textLength="7" lengthAdjust="spacingAndGlyphs" class="t" font-size="14.6">F</text>
<path class="sl" d="M525.22 43.9 L531.62 31.5"/>
<text x="535.94" y="42.9" text-anchor="middle" textLength="7" lengthAdjust="spacingAndGlyphs" class="t" font-size="14.6">1</text>
<text x="543.56" y="42.9" text-anchor="middle" textLength="7" lengthAdjust="spacingAndGlyphs" class="t" font-size="14.6">6</text>
<text x="551.18" y="42.9" text-anchor="middle" textLength="7" lengthAdjust="spacingAndGlyphs" class="t" font-size="14.6">V</text>
<path d="M447.5 99.5 L483.5 99.5 L483.5 111.5"/>
<path d="M471 111.5 L496 111.5"/>
<path d="M471 117.5 L496 117.5"/>
<path d="M483.5 117.5 L483.5 129.5"/>
<circle cx="483.1" cy="129.1" r="3.2" class="d"/>
<path d="M447.5 129.5 L657.5 129.5 L657.5 105.5"/>
<text x="505.26" y="120.7" text-anchor="middle" textLength="7" lengthAdjust="spacingAndGlyphs" class="t" font-size="14.6">3</text>
<text x="512.88" y="120.7" text-anchor="middle" textLength="7" lengthAdjust="spacingAndGlyphs" class="t" font-size="14.6">3</text>
<text x="520.50" y="120.7" text-anchor="middle" textLength="7" lengthAdjust="spacingAndGlyphs" class="t" font-size="14.6">n</text>
<text x="528.12" y="120.7" text-anchor="middle" textLength="7" lengthAdjust="spacingAndGlyphs" class="t" font-size="14.6">F</text>
<path class="sl" d="M532.64 121.7 L539.04 109.3"/>
<text x="543.36" y="120.7" text-anchor="middle" textLength="7" lengthAdjust="spacingAndGlyphs" class="t" font-size="14.6">5</text>
<text x="550.98" y="120.7" text-anchor="middle" textLength="7" lengthAdjust="spacingAndGlyphs" class="t" font-size="14.6">0</text>
<text x="558.60" y="120.7" text-anchor="middle" textLength="7" lengthAdjust="spacingAndGlyphs" class="t" font-size="14.6">V</text>
<path d="M447.5 159.5 L591.5 159.5"/>
<circle cx="483.1" cy="159.1" r="3.2" class="d"/>
<circle cx="561.1" cy="159.1" r="3.2" class="d"/>
<circle cx="591.1" cy="159.1" r="3.2" class="d"/>
<path d="M483.5 159.5 L483.5 171.5"/>
<path d="M471 171.5 L496 171.5"/>
<path d="M471 177.5 L496 177.5"/>
<path d="M483.5 177.5 L483.5 189.5"/>
<circle cx="483.1" cy="189.1" r="3.2" class="d"/>
<path d="M561.5 159.5 L561.5 171.5"/>
<path d="M549 171.5 L574 171.5"/>
<path d="M549 177.5 L574 177.5"/>
<path d="M561.5 177.5 L561.5 201.5"/>
<circle cx="561.1" cy="189.1" r="3.2" class="d"/>
<path d="M555.5 201.5 L567.5 201.5 L561.5 212.6 Z"/>
<path d="M447.5 189.5 L561.5 189.5"/>
<text x="457.36" y="156.6" text-anchor="middle" textLength="7" lengthAdjust="spacingAndGlyphs" class="t" font-size="14.6">0</text>
<text x="463.18" y="156.6" text-anchor="middle" class="t" font-size="14.6">.</text>
<text x="472.60" y="156.6" text-anchor="middle" textLength="7" lengthAdjust="spacingAndGlyphs" class="t" font-size="14.6">1</text>
<text x="480.22" y="156.6" text-anchor="middle" textLength="7" lengthAdjust="spacingAndGlyphs" class="t" font-size="14.6">u</text>
<text x="487.84" y="156.6" text-anchor="middle" textLength="7" lengthAdjust="spacingAndGlyphs" class="t" font-size="14.6">F</text>
<path class="sl" d="M492.36 157.6 L498.76 145.2"/>
<text x="503.08" y="156.6" text-anchor="middle" textLength="7" lengthAdjust="spacingAndGlyphs" class="t" font-size="14.6">5</text>
<text x="510.70" y="156.6" text-anchor="middle" textLength="7" lengthAdjust="spacingAndGlyphs" class="t" font-size="14.6">0</text>
<text x="518.32" y="156.6" text-anchor="middle" textLength="7" lengthAdjust="spacingAndGlyphs" class="t" font-size="14.6">V</text>
<text x="535.36" y="156.8" text-anchor="middle" textLength="7" lengthAdjust="spacingAndGlyphs" class="t" font-size="14.6">1</text>
<text x="542.98" y="156.8" text-anchor="middle" textLength="7" lengthAdjust="spacingAndGlyphs" class="t" font-size="14.6">0</text>
<text x="550.60" y="156.8" text-anchor="middle" textLength="7" lengthAdjust="spacingAndGlyphs" class="t" font-size="14.6">u</text>
<text x="558.22" y="156.8" text-anchor="middle" textLength="7" lengthAdjust="spacingAndGlyphs" class="t" font-size="14.6">F</text>
<path class="sl" d="M562.74 157.8 L569.14 145.4"/>
<text x="573.46" y="156.8" text-anchor="middle" textLength="7" lengthAdjust="spacingAndGlyphs" class="t" font-size="14.6">5</text>
<text x="581.08" y="156.8" text-anchor="middle" textLength="7" lengthAdjust="spacingAndGlyphs" class="t" font-size="14.6">0</text>
<text x="588.70" y="156.8" text-anchor="middle" textLength="7" lengthAdjust="spacingAndGlyphs" class="t" font-size="14.6">V</text>
<path d="M579 81.5 L604 81.5"/>
<path d="M591.5 81.5 L591.5 368.5 L447.5 368.5"/>
<text x="540.46" y="72.8" text-anchor="middle" textLength="7" lengthAdjust="spacingAndGlyphs" class="t" font-size="14.6">P</text>
<text x="548.08" y="72.8" text-anchor="middle" textLength="7" lengthAdjust="spacingAndGlyphs" class="t" font-size="14.6">V</text>
<text x="555.70" y="72.8" text-anchor="middle" textLength="7" lengthAdjust="spacingAndGlyphs" class="t" font-size="14.6">D</text>
<text x="563.32" y="72.8" text-anchor="middle" textLength="7" lengthAdjust="spacingAndGlyphs" class="t" font-size="14.6">D</text>
<text x="570.94" y="72.8" text-anchor="middle" textLength="7" lengthAdjust="spacingAndGlyphs" class="t" font-size="14.6">=</text>
<text x="578.56" y="72.8" text-anchor="middle" textLength="7" lengthAdjust="spacingAndGlyphs" class="t" font-size="14.6">6</text>
<text x="586.18" y="72.8" text-anchor="middle" textLength="7" lengthAdjust="spacingAndGlyphs" class="t" font-size="14.6">V</text>
<text x="593.80" y="67.3" text-anchor="middle" textLength="7" lengthAdjust="spacingAndGlyphs" class="t" font-size="14.6">~</text>
<text x="601.42" y="72.8" text-anchor="middle" textLength="7" lengthAdjust="spacingAndGlyphs" class="t" font-size="14.6">2</text>
<text x="609.04" y="72.8" text-anchor="middle" textLength="7" lengthAdjust="spacingAndGlyphs" class="t" font-size="14.6">6</text>
<text x="616.66" y="72.8" text-anchor="middle" textLength="7" lengthAdjust="spacingAndGlyphs" class="t" font-size="14.6">V</text>
<path d="M447.5 219.5 L657.5 219.5 L657.5 243.5"/>
<circle cx="483.1" cy="219.1" r="3.2" class="d"/>
<path d="M483.5 219.5 L483.5 231.5"/>
<path d="M471 231.5 L496 231.5"/>
<path d="M471 237.5 L496 237.5"/>
<path d="M483.5 237.5 L483.5 249.5 L447.5 249.5"/>
<text x="505.26" y="241.3" text-anchor="middle" textLength="7" lengthAdjust="spacingAndGlyphs" class="t" font-size="14.6">3</text>
<text x="512.88" y="241.3" text-anchor="middle" textLength="7" lengthAdjust="spacingAndGlyphs" class="t" font-size="14.6">3</text>
<text x="520.50" y="241.3" text-anchor="middle" textLength="7" lengthAdjust="spacingAndGlyphs" class="t" font-size="14.6">n</text>
<text x="528.12" y="241.3" text-anchor="middle" textLength="7" lengthAdjust="spacingAndGlyphs" class="t" font-size="14.6">F</text>
<path class="sl" d="M532.64 242.3 L539.04 229.9"/>
<text x="543.36" y="241.3" text-anchor="middle" textLength="7" lengthAdjust="spacingAndGlyphs" class="t" font-size="14.6">5</text>
<text x="550.98" y="241.3" text-anchor="middle" textLength="7" lengthAdjust="spacingAndGlyphs" class="t" font-size="14.6">0</text>
<text x="558.60" y="241.3" text-anchor="middle" textLength="7" lengthAdjust="spacingAndGlyphs" class="t" font-size="14.6">V</text>
<path d="M447.5 279.5 L483.5 279.5 L483.5 291.5"/>
<path d="M471 291.5 L496 291.5"/>
<path d="M471 297.5 L496 297.5"/>
<path d="M483.5 297.5 L483.5 309.5"/>
<circle cx="483.1" cy="309.1" r="3.2" class="d"/>
<path d="M447.5 309.5 L615.5 309.5 L615.5 344.5 L651.5 344.5"/>
<text x="505.26" y="300.9" text-anchor="middle" textLength="7" lengthAdjust="spacingAndGlyphs" class="t" font-size="14.6">3</text>
<text x="512.88" y="300.9" text-anchor="middle" textLength="7" lengthAdjust="spacingAndGlyphs" class="t" font-size="14.6">3</text>
<text x="520.50" y="300.9" text-anchor="middle" textLength="7" lengthAdjust="spacingAndGlyphs" class="t" font-size="14.6">n</text>
<text x="528.12" y="300.9" text-anchor="middle" textLength="7" lengthAdjust="spacingAndGlyphs" class="t" font-size="14.6">F</text>
<path class="sl" d="M532.64 301.9 L539.04 289.5"/>
<text x="543.36" y="300.9" text-anchor="middle" textLength="7" lengthAdjust="spacingAndGlyphs" class="t" font-size="14.6">5</text>
<text x="550.98" y="300.9" text-anchor="middle" textLength="7" lengthAdjust="spacingAndGlyphs" class="t" font-size="14.6">0</text>
<text x="558.60" y="300.9" text-anchor="middle" textLength="7" lengthAdjust="spacingAndGlyphs" class="t" font-size="14.6">V</text>
<path d="M447.5 338.5 L561.5 338.5"/>
<circle cx="483.1" cy="338.1" r="3.2" class="d"/>
<circle cx="561.1" cy="338.1" r="3.2" class="d"/>
<circle cx="483.1" cy="368.1" r="3.2" class="d"/>
<path d="M483.5 338.5 L483.5 350.5"/>
<path d="M471 350.5 L496 350.5"/>
<path d="M471 356.5 L496 356.5"/>
<path d="M483.5 356.5 L483.5 368.5"/>
<path d="M561.5 338.5 L561.5 350.5"/>
<path d="M549 350.5 L574 350.5"/>
<path d="M549 356.5 L574 356.5"/>
<path d="M561.5 356.5 L561.5 368.5"/>
<path d="M561.5 338.5 L561.5 326.5"/>
<path d="M555.5 326.5 L567.5 326.5 L561.5 315 Z"/>
<text x="469.36" y="385" text-anchor="middle" textLength="7" lengthAdjust="spacingAndGlyphs" class="t" font-size="14.6">0</text>
<text x="475.18" y="385" text-anchor="middle" class="t" font-size="14.6">.</text>
<text x="484.60" y="385" text-anchor="middle" textLength="7" lengthAdjust="spacingAndGlyphs" class="t" font-size="14.6">1</text>
<text x="492.22" y="385" text-anchor="middle" textLength="7" lengthAdjust="spacingAndGlyphs" class="t" font-size="14.6">u</text>
<text x="499.84" y="385" text-anchor="middle" textLength="7" lengthAdjust="spacingAndGlyphs" class="t" font-size="14.6">F</text>
<path class="sl" d="M504.36 386 L510.76 373.6"/>
<text x="515.08" y="385" text-anchor="middle" textLength="7" lengthAdjust="spacingAndGlyphs" class="t" font-size="14.6">5</text>
<text x="522.70" y="385" text-anchor="middle" textLength="7" lengthAdjust="spacingAndGlyphs" class="t" font-size="14.6">0</text>
<text x="530.32" y="385" text-anchor="middle" textLength="7" lengthAdjust="spacingAndGlyphs" class="t" font-size="14.6">V</text>
<text x="535.36" y="385" text-anchor="middle" textLength="7" lengthAdjust="spacingAndGlyphs" class="t" font-size="14.6">1</text>
<text x="542.98" y="385" text-anchor="middle" textLength="7" lengthAdjust="spacingAndGlyphs" class="t" font-size="14.6">0</text>
<text x="550.60" y="385" text-anchor="middle" textLength="7" lengthAdjust="spacingAndGlyphs" class="t" font-size="14.6">u</text>
<text x="558.22" y="385" text-anchor="middle" textLength="7" lengthAdjust="spacingAndGlyphs" class="t" font-size="14.6">F</text>
<path class="sl" d="M562.74 386 L569.14 373.6"/>
<text x="573.46" y="385" text-anchor="middle" textLength="7" lengthAdjust="spacingAndGlyphs" class="t" font-size="14.6">5</text>
<text x="581.08" y="385" text-anchor="middle" textLength="7" lengthAdjust="spacingAndGlyphs" class="t" font-size="14.6">0</text>
<text x="588.70" y="385" text-anchor="middle" textLength="7" lengthAdjust="spacingAndGlyphs" class="t" font-size="14.6">V</text>
<path d="M447.5 398.5 L615.5 398.5 L615.5 362.5 L651.5 362.5"/>
<circle cx="483.1" cy="398.1" r="3.2" class="d"/>
<path d="M483.5 398.5 L483.5 410.5"/>
<path d="M471 410.5 L496 410.5"/>
<path d="M471 416.5 L496 416.5"/>
<path d="M483.5 416.5 L483.5 428.5 L447.5 428.5"/>
<text x="505.26" y="419.7" text-anchor="middle" textLength="7" lengthAdjust="spacingAndGlyphs" class="t" font-size="14.6">3</text>
<text x="512.88" y="419.7" text-anchor="middle" textLength="7" lengthAdjust="spacingAndGlyphs" class="t" font-size="14.6">3</text>
<text x="520.50" y="419.7" text-anchor="middle" textLength="7" lengthAdjust="spacingAndGlyphs" class="t" font-size="14.6">n</text>
<text x="528.12" y="419.7" text-anchor="middle" textLength="7" lengthAdjust="spacingAndGlyphs" class="t" font-size="14.6">F</text>
<path class="sl" d="M532.64 420.7 L539.04 408.3"/>
<text x="543.36" y="419.7" text-anchor="middle" textLength="7" lengthAdjust="spacingAndGlyphs" class="t" font-size="14.6">5</text>
<text x="550.98" y="419.7" text-anchor="middle" textLength="7" lengthAdjust="spacingAndGlyphs" class="t" font-size="14.6">0</text>
<text x="558.60" y="419.7" text-anchor="middle" textLength="7" lengthAdjust="spacingAndGlyphs" class="t" font-size="14.6">V</text>
<path d="M447.5 458.5 L483.5 458.5 L483.5 488.5"/>
<path d="M471 488.5 L496 488.5"/>
<path d="M471 494.5 L496 494.5"/>
<path d="M483.5 494.5 L483.5 512.5"/>
<path d="M477.5 512.5 L489.5 512.5 L483.5 524.3 Z"/>
<text x="505.96" y="497.9" text-anchor="middle" textLength="7" lengthAdjust="spacingAndGlyphs" class="t" font-size="14.6">1</text>
<text x="513.58" y="497.9" text-anchor="middle" textLength="7" lengthAdjust="spacingAndGlyphs" class="t" font-size="14.6">u</text>
<text x="521.20" y="497.9" text-anchor="middle" textLength="7" lengthAdjust="spacingAndGlyphs" class="t" font-size="14.6">F</text>
<path class="sl" d="M525.72 498.9 L532.12 486.5"/>
<text x="536.44" y="497.9" text-anchor="middle" textLength="7" lengthAdjust="spacingAndGlyphs" class="t" font-size="14.6">1</text>
<text x="544.06" y="497.9" text-anchor="middle" textLength="7" lengthAdjust="spacingAndGlyphs" class="t" font-size="14.6">6</text>
<text x="551.68" y="497.9" text-anchor="middle" textLength="7" lengthAdjust="spacingAndGlyphs" class="t" font-size="14.6">V</text>
<path d="M633.5 75.5 L699.5 75.5 L681.5 93.5 L651.5 93.5 Z"/>
<rect x="651.5" y="93.5" width="30" height="12"/>
<path d="M675.5 105.5 L675.5 117.5 L777.5 117.5"/>
<text x="660.96" y="66.9" text-anchor="middle" textLength="7" lengthAdjust="spacingAndGlyphs" class="t" font-size="14.6">L</text>
<text x="668.58" y="66.9" text-anchor="middle" textLength="7" lengthAdjust="spacingAndGlyphs" class="t" font-size="14.6">S</text>
<text x="683.76" y="66.4" text-anchor="middle" class="o" font-size="13">(</text>
<text x="691.96" y="66.9" text-anchor="middle" textLength="7" lengthAdjust="spacingAndGlyphs" class="t" font-size="14.6">S</text>
<text x="699.58" y="66.9" text-anchor="middle" textLength="7" lengthAdjust="spacingAndGlyphs" class="t" font-size="14.6">E</text>
<text x="707.86" y="66.4" text-anchor="middle" class="o" font-size="13">)</text>
<path d="M651.5 255.5 L681.5 255.5 L699.5 272.5 L633.5 272.5 Z"/>
<rect x="651.5" y="243.5" width="30" height="12"/>
<path d="M675.5 243.5 L675.5 231.5 L777.5 231.5"/>
<text x="661.46" y="294.8" text-anchor="middle" textLength="7" lengthAdjust="spacingAndGlyphs" class="t" font-size="14.6">L</text>
<text x="669.08" y="294.8" text-anchor="middle" textLength="7" lengthAdjust="spacingAndGlyphs" class="t" font-size="14.6">S</text>
<text x="684.26" y="294.3" text-anchor="middle" class="o" font-size="13">(</text>
<text x="692.46" y="294.8" text-anchor="middle" textLength="7" lengthAdjust="spacingAndGlyphs" class="t" font-size="14.6">S</text>
<text x="700.08" y="294.8" text-anchor="middle" textLength="7" lengthAdjust="spacingAndGlyphs" class="t" font-size="14.6">E</text>
<text x="708.36" y="294.3" text-anchor="middle" class="o" font-size="13">)</text>
<rect x="651.5" y="338.5" width="12" height="30"/>
<path d="M663.5 338.5 L681.5 320.5 L681.5 386.5 L663.5 368.5"/>
<text x="690.56" y="361.1" text-anchor="middle" textLength="7" lengthAdjust="spacingAndGlyphs" class="t" font-size="14.6">L</text>
<text x="698.18" y="361.1" text-anchor="middle" textLength="7" lengthAdjust="spacingAndGlyphs" class="t" font-size="14.6">S</text>
<text x="713.06" y="360.6" text-anchor="middle" class="o" font-size="13">(</text>
<text x="720.96" y="361.1" text-anchor="middle" textLength="7" lengthAdjust="spacingAndGlyphs" class="t" font-size="14.6">B</text>
<text x="728.58" y="361.1" text-anchor="middle" textLength="7" lengthAdjust="spacingAndGlyphs" class="t" font-size="14.6">T</text>
<text x="736.20" y="361.1" text-anchor="middle" textLength="7" lengthAdjust="spacingAndGlyphs" class="t" font-size="14.6">L</text>
<text x="745.16" y="360.6" text-anchor="middle" class="o" font-size="13">)</text>
<path d="M729.5 75.5 L753.5 75.5"/>
<path d="M741.5 75.5 L741.5 87.5"/>
<rect x="735.5" y="87.5" width="12" height="24"/>
<path d="M741.5 111.5 L741.5 123.5"/>
<rect x="735.5" y="123.5" width="12" height="24"/>
<path d="M741.5 147.5 L741.5 153.5"/>
<path d="M735.5 153.5 L747.5 153.5 L741.5 164.5 Z"/>
<circle cx="741.1" cy="117.1" r="3.2" class="d"/>
<circle cx="777.1" cy="117.1" r="3.2" class="d"/>
<path d="M765 75.5 L790 75.5"/>
<path d="M777.5 75.5 L777.5 93.5"/>
<path d="M765 93.5 L790 93.5"/>
<path d="M765 99.5 L790 99.5"/>
<path d="M777.5 99.5 L777.5 135.5"/>
<path d="M765 135.5 L790 135.5"/>
<path d="M765 141.5 L790 141.5"/>
<path d="M777.5 141.5 L777.5 153.5"/>
<path d="M771.5 153.5 L783.5 153.5 L777.5 164.5 Z"/>
<path d="M789 87.5 L802 87.5"/>
<path d="M795.5 81.5 L795.5 93.5"/>
<path d="M789 129.5 L802 129.5"/>
<path d="M795.5 123.5 L795.5 135.5"/>
<text x="703.86" y="103" text-anchor="middle" textLength="7" lengthAdjust="spacingAndGlyphs" class="t" font-size="14.6">1</text>
<text x="711.48" y="103" text-anchor="middle" textLength="7" lengthAdjust="spacingAndGlyphs" class="t" font-size="14.6">0</text>
<text x="719.10" y="103" text-anchor="middle" textLength="7" lengthAdjust="spacingAndGlyphs" class="t" font-size="14.6">k</text>
<text x="725.1" y="102.3" textLength="9.7" lengthAdjust="spacingAndGlyphs" class="o" font-size="14.6">&#937;</text>
<text x="703.86" y="144.6" text-anchor="middle" textLength="7" lengthAdjust="spacingAndGlyphs" class="t" font-size="14.6">1</text>
<text x="711.48" y="144.6" text-anchor="middle" textLength="7" lengthAdjust="spacingAndGlyphs" class="t" font-size="14.6">0</text>
<text x="719.10" y="144.6" text-anchor="middle" textLength="7" lengthAdjust="spacingAndGlyphs" class="t" font-size="14.6">k</text>
<text x="725.1" y="143.9" textLength="9.7" lengthAdjust="spacingAndGlyphs" class="o" font-size="14.6">&#937;</text>
<text x="798.86" y="103.2" text-anchor="middle" textLength="7" lengthAdjust="spacingAndGlyphs" class="t" font-size="14.6">2</text>
<text x="806.48" y="103.2" text-anchor="middle" textLength="7" lengthAdjust="spacingAndGlyphs" class="t" font-size="14.6">2</text>
<text x="814.10" y="103.2" text-anchor="middle" textLength="7" lengthAdjust="spacingAndGlyphs" class="t" font-size="14.6">0</text>
<text x="821.72" y="103.2" text-anchor="middle" textLength="7" lengthAdjust="spacingAndGlyphs" class="t" font-size="14.6">u</text>
<text x="829.34" y="103.2" text-anchor="middle" textLength="7" lengthAdjust="spacingAndGlyphs" class="t" font-size="14.6">F</text>
<path class="sl" d="M833.86 104.2 L840.26 91.8"/>
<text x="844.58" y="103.2" text-anchor="middle" textLength="7" lengthAdjust="spacingAndGlyphs" class="t" font-size="14.6">5</text>
<text x="852.20" y="103.2" text-anchor="middle" textLength="7" lengthAdjust="spacingAndGlyphs" class="t" font-size="14.6">0</text>
<text x="859.82" y="103.2" text-anchor="middle" textLength="7" lengthAdjust="spacingAndGlyphs" class="t" font-size="14.6">V</text>
<text x="798.86" y="144.8" text-anchor="middle" textLength="7" lengthAdjust="spacingAndGlyphs" class="t" font-size="14.6">2</text>
<text x="806.48" y="144.8" text-anchor="middle" textLength="7" lengthAdjust="spacingAndGlyphs" class="t" font-size="14.6">2</text>
<text x="814.10" y="144.8" text-anchor="middle" textLength="7" lengthAdjust="spacingAndGlyphs" class="t" font-size="14.6">0</text>
<text x="821.72" y="144.8" text-anchor="middle" textLength="7" lengthAdjust="spacingAndGlyphs" class="t" font-size="14.6">u</text>
<text x="829.34" y="144.8" text-anchor="middle" textLength="7" lengthAdjust="spacingAndGlyphs" class="t" font-size="14.6">F</text>
<path class="sl" d="M833.86 145.8 L840.26 133.4"/>
<text x="844.58" y="144.8" text-anchor="middle" textLength="7" lengthAdjust="spacingAndGlyphs" class="t" font-size="14.6">5</text>
<text x="852.20" y="144.8" text-anchor="middle" textLength="7" lengthAdjust="spacingAndGlyphs" class="t" font-size="14.6">0</text>
<text x="859.82" y="144.8" text-anchor="middle" textLength="7" lengthAdjust="spacingAndGlyphs" class="t" font-size="14.6">V</text>
<text x="745.46" y="66.9" text-anchor="middle" textLength="7" lengthAdjust="spacingAndGlyphs" class="t" font-size="14.6">P</text>
<text x="753.08" y="66.9" text-anchor="middle" textLength="7" lengthAdjust="spacingAndGlyphs" class="t" font-size="14.6">V</text>
<text x="760.70" y="66.9" text-anchor="middle" textLength="7" lengthAdjust="spacingAndGlyphs" class="t" font-size="14.6">D</text>
<text x="768.32" y="66.9" text-anchor="middle" textLength="7" lengthAdjust="spacingAndGlyphs" class="t" font-size="14.6">D</text>
<path d="M729.5 189.5 L753.5 189.5"/>
<path d="M741.5 189.5 L741.5 201.5"/>
<rect x="735.5" y="201.5" width="12" height="24"/>
<path d="M741.5 225.5 L741.5 237.5"/>
<rect x="735.5" y="237.5" width="12" height="24"/>
<path d="M741.5 261.5 L741.5 267.5"/>
<path d="M735.5 267.5 L747.5 267.5 L741.5 278.5 Z"/>
<circle cx="741.1" cy="231.1" r="3.2" class="d"/>
<circle cx="777.1" cy="231.1" r="3.2" class="d"/>
<path d="M765 189.5 L790 189.5"/>
<path d="M777.5 189.5 L777.5 207.5"/>
<path d="M765 207.5 L790 207.5"/>
<path d="M765 213.5 L790 213.5"/>
<path d="M777.5 213.5 L777.5 249.5"/>
<path d="M765 249.5 L790 249.5"/>
<path d="M765 255.5 L790 255.5"/>
<path d="M777.5 255.5 L777.5 267.5"/>
<path d="M771.5 267.5 L783.5 267.5 L777.5 278.5 Z"/>
<path d="M789 201.5 L802 201.5"/>
<path d="M795.5 195.5 L795.5 207.5"/>
<path d="M789 237.5 L802 237.5"/>
<path d="M795.5 231.5 L795.5 243.5"/>
<text x="703.86" y="217" text-anchor="middle" textLength="7" lengthAdjust="spacingAndGlyphs" class="t" font-size="14.6">1</text>
<text x="711.48" y="217" text-anchor="middle" textLength="7" lengthAdjust="spacingAndGlyphs" class="t" font-size="14.6">0</text>
<text x="719.10" y="217" text-anchor="middle" textLength="7" lengthAdjust="spacingAndGlyphs" class="t" font-size="14.6">k</text>
<text x="725.1" y="216.3" textLength="9.7" lengthAdjust="spacingAndGlyphs" class="o" font-size="14.6">&#937;</text>
<text x="703.86" y="258.6" text-anchor="middle" textLength="7" lengthAdjust="spacingAndGlyphs" class="t" font-size="14.6">1</text>
<text x="711.48" y="258.6" text-anchor="middle" textLength="7" lengthAdjust="spacingAndGlyphs" class="t" font-size="14.6">0</text>
<text x="719.10" y="258.6" text-anchor="middle" textLength="7" lengthAdjust="spacingAndGlyphs" class="t" font-size="14.6">k</text>
<text x="725.1" y="257.9" textLength="9.7" lengthAdjust="spacingAndGlyphs" class="o" font-size="14.6">&#937;</text>
<text x="798.86" y="217.2" text-anchor="middle" textLength="7" lengthAdjust="spacingAndGlyphs" class="t" font-size="14.6">2</text>
<text x="806.48" y="217.2" text-anchor="middle" textLength="7" lengthAdjust="spacingAndGlyphs" class="t" font-size="14.6">2</text>
<text x="814.10" y="217.2" text-anchor="middle" textLength="7" lengthAdjust="spacingAndGlyphs" class="t" font-size="14.6">0</text>
<text x="821.72" y="217.2" text-anchor="middle" textLength="7" lengthAdjust="spacingAndGlyphs" class="t" font-size="14.6">u</text>
<text x="829.34" y="217.2" text-anchor="middle" textLength="7" lengthAdjust="spacingAndGlyphs" class="t" font-size="14.6">F</text>
<path class="sl" d="M833.86 218.2 L840.26 205.8"/>
<text x="844.58" y="217.2" text-anchor="middle" textLength="7" lengthAdjust="spacingAndGlyphs" class="t" font-size="14.6">5</text>
<text x="852.20" y="217.2" text-anchor="middle" textLength="7" lengthAdjust="spacingAndGlyphs" class="t" font-size="14.6">0</text>
<text x="859.82" y="217.2" text-anchor="middle" textLength="7" lengthAdjust="spacingAndGlyphs" class="t" font-size="14.6">V</text>
<text x="798.86" y="252.8" text-anchor="middle" textLength="7" lengthAdjust="spacingAndGlyphs" class="t" font-size="14.6">2</text>
<text x="806.48" y="252.8" text-anchor="middle" textLength="7" lengthAdjust="spacingAndGlyphs" class="t" font-size="14.6">2</text>
<text x="814.10" y="252.8" text-anchor="middle" textLength="7" lengthAdjust="spacingAndGlyphs" class="t" font-size="14.6">0</text>
<text x="821.72" y="252.8" text-anchor="middle" textLength="7" lengthAdjust="spacingAndGlyphs" class="t" font-size="14.6">u</text>
<text x="829.34" y="252.8" text-anchor="middle" textLength="7" lengthAdjust="spacingAndGlyphs" class="t" font-size="14.6">F</text>
<path class="sl" d="M833.86 253.8 L840.26 241.4"/>
<text x="844.58" y="252.8" text-anchor="middle" textLength="7" lengthAdjust="spacingAndGlyphs" class="t" font-size="14.6">5</text>
<text x="852.20" y="252.8" text-anchor="middle" textLength="7" lengthAdjust="spacingAndGlyphs" class="t" font-size="14.6">0</text>
<text x="859.82" y="252.8" text-anchor="middle" textLength="7" lengthAdjust="spacingAndGlyphs" class="t" font-size="14.6">V</text>
<text x="738.96" y="186.9" text-anchor="middle" textLength="7" lengthAdjust="spacingAndGlyphs" class="t" font-size="14.6">P</text>
<text x="746.58" y="186.9" text-anchor="middle" textLength="7" lengthAdjust="spacingAndGlyphs" class="t" font-size="14.6">V</text>
<text x="754.20" y="186.9" text-anchor="middle" textLength="7" lengthAdjust="spacingAndGlyphs" class="t" font-size="14.6">D</text>
<text x="761.82" y="186.9" text-anchor="middle" textLength="7" lengthAdjust="spacingAndGlyphs" class="t" font-size="14.6">D</text>
</svg>
</body></html>
